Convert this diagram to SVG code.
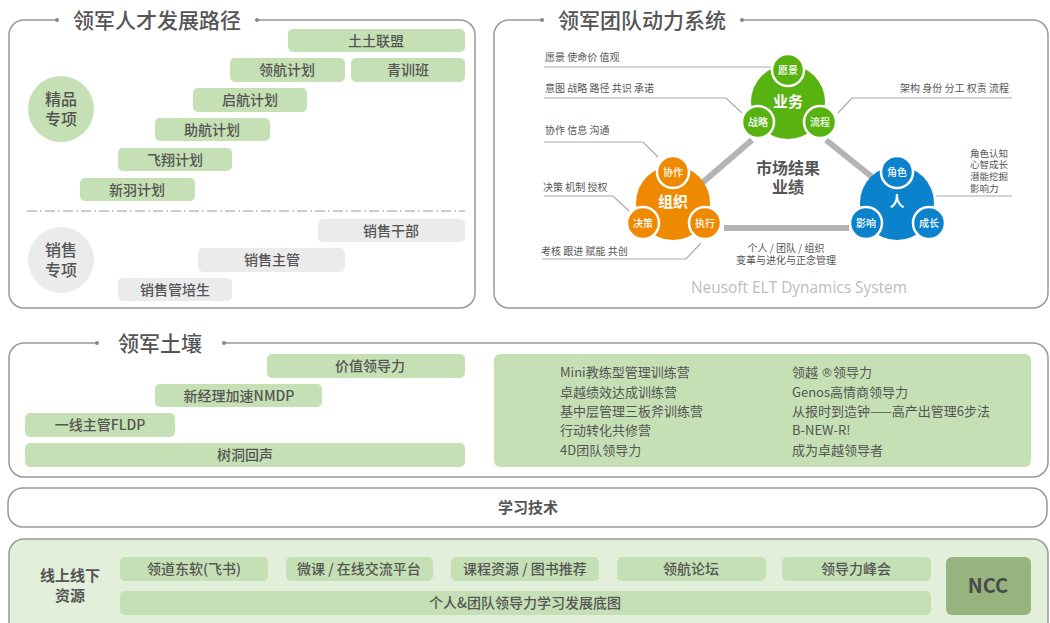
<svg xmlns="http://www.w3.org/2000/svg" width="1050" height="623" viewBox="0 0 1050 623">
<style>
text{font-family:"Noto Sans CJK SC","Noto Sans",sans-serif;fill:#555}
.title{font-size:21px;font-weight:500}
.lbl{font-size:14px;font-weight:500;text-anchor:middle}
.panel{fill:none;stroke:#999;stroke-width:1.5}
.g{fill:#c5e0b4}
.gr{fill:#ebebeb}
.ann{font-size:10px}
.annl{fill:none;stroke:#aaa;stroke-width:1.2}
.sm{font-size:10px;fill:#fff;text-anchor:middle;font-weight:500}
.big{font-size:15px;fill:#fff;text-anchor:middle;font-weight:bold}
.wl{stroke:#fff;stroke-width:2.5}
.lst{font-size:13px}
.dot{fill:#888}
</style>

<!-- Panel 1 -->
<g id="panel-talent">
<path class="panel" d="M57 20H24A15 15 0 0 0 9 35V293A15 15 0 0 0 24 308H460A15 15 0 0 0 475 293V35A15 15 0 0 0 460 20H257"/>
<circle class="dot" cx="57" cy="20" r="2"/><circle class="dot" cx="257" cy="20" r="2"/>
<text class="title" x="157" y="28" text-anchor="middle">领军人才发展路径</text>
</g>
<g id="n-jingpin"><circle class="g" cx="61" cy="109" r="33"/><text class="lbl" style="font-size:16px"><tspan x="61" y="105">精品</tspan><tspan x="61" y="125">专项</tspan></text></g>
<g id="n-tutu"><rect class="g" x="288" y="29" width="177" height="23" rx="5"/><text class="lbl" x="376" y="45.5">土土联盟</text></g>
<g id="n-linghang"><rect class="g" x="230" y="58" width="115" height="24" rx="5"/><text class="lbl" x="287" y="75">领航计划</text></g>
<g id="n-qingxun"><rect class="g" x="351" y="58" width="114" height="24" rx="5"/><text class="lbl" x="408" y="75">青训班</text></g>
<g id="n-qihang"><rect class="g" x="193" y="88" width="114" height="24" rx="5"/><text class="lbl" x="250" y="105">启航计划</text></g>
<g id="n-zhuhang"><rect class="g" x="155" y="118" width="115" height="23" rx="5"/><text class="lbl" x="212" y="134.5">助航计划</text></g>
<g id="n-feixiang"><rect class="g" x="118" y="148" width="114" height="23" rx="5"/><text class="lbl" x="175" y="164.5">飞翔计划</text></g>
<g id="n-xinyu"><rect class="g" x="80" y="178" width="115" height="23" rx="5"/><text class="lbl" x="137" y="194.5">新羽计划</text></g>
<line x1="27" y1="211" x2="465" y2="211" stroke="#999" stroke-width="1.2" stroke-dasharray="10 3 2 3"/>
<g id="n-xiaoshou"><circle class="gr" cx="61" cy="260" r="33"/><text class="lbl" style="font-size:16px"><tspan x="61" y="256">销售</tspan><tspan x="61" y="276">专项</tspan></text></g>
<g id="n-xsgb"><rect class="gr" x="318" y="219" width="147" height="23" rx="5"/><text class="lbl" x="391" y="235.5">销售干部</text></g>
<g id="n-xszg"><rect class="gr" x="198" y="248" width="147" height="24" rx="5"/><text class="lbl" x="272" y="265">销售主管</text></g>
<g id="n-xsgps"><rect class="gr" x="118" y="278" width="114" height="23" rx="5"/><text class="lbl" x="175" y="294.5">销售管培生</text></g>

<!-- Panel 2 -->
<g id="panel-team">
<path class="panel" d="M542 20H509A15 15 0 0 0 494 35V293A15 15 0 0 0 509 308H1033A15 15 0 0 0 1048 293V35A15 15 0 0 0 1033 20H742"/>
<circle class="dot" cx="542" cy="20" r="2"/><circle class="dot" cx="742" cy="20" r="2"/>
<text class="title" x="642" y="28" text-anchor="middle">领军团队动力系统</text>
</g>
<g id="connectors">
<line x1="752" y1="140" x2="702" y2="183" stroke="#b4b4b4" stroke-width="6"/>
<line x1="826" y1="140" x2="872" y2="177" stroke="#b4b4b4" stroke-width="6"/>
<line x1="724" y1="228" x2="849" y2="228" stroke="#b4b4b4" stroke-width="6"/>
<polyline class="annl" points="544,67 772,67"/>
<polyline class="annl" points="544,98 726,98 742,113"/>
<polyline class="annl" points="544,142 643,142 658,157"/>
<polyline class="annl" points="544,196 613,196 629,211"/>
<polyline class="annl" points="542,259 686,259 701,243"/>
<polyline class="annl" points="1012,98 852,98 838,113"/>
<polyline class="annl" points="936,196 1012,196"/>
</g>
<g id="n-yewu">
<circle cx="788" cy="102" r="37" fill="#58b20f"/>
<circle class="wl" cx="788" cy="70" r="16" fill="#58b20f"/>
<circle class="wl" cx="758" cy="122" r="16" fill="#58b20f"/>
<circle class="wl" cx="820" cy="122" r="16" fill="#58b20f"/>
<text class="big" x="788" y="107">业务</text>
<text class="sm" x="788" y="74">愿景</text>
<text class="sm" x="758" y="126">战略</text>
<text class="sm" x="820" y="126">流程</text>
</g>
<g id="n-zuzhi">
<circle cx="673" cy="203" r="37" fill="#ef8a00"/>
<circle class="wl" cx="673" cy="172" r="16" fill="#ef8a00"/>
<circle class="wl" cx="643" cy="223" r="16" fill="#ef8a00"/>
<circle class="wl" cx="705" cy="223" r="16" fill="#ef8a00"/>
<text class="big" x="673" y="207">组织</text>
<text class="sm" x="673" y="176">协作</text>
<text class="sm" x="643" y="227">决策</text>
<text class="sm" x="705" y="227">执行</text>
</g>
<g id="n-ren">
<circle cx="897" cy="203" r="37" fill="#0b82cb"/>
<circle class="wl" cx="897" cy="172" r="16" fill="#0b82cb"/>
<circle class="wl" cx="866" cy="223" r="16" fill="#0b82cb"/>
<circle class="wl" cx="929" cy="223" r="16" fill="#0b82cb"/>
<text class="big" x="897" y="207">人</text>
<text class="sm" x="897" y="176">角色</text>
<text class="sm" x="866" y="227">影响</text>
<text class="sm" x="929" y="227">成长</text>
</g>
<g id="n-center">
<text text-anchor="middle" style="font-size:16px;font-weight:bold"><tspan x="788" y="174">市场结果</tspan><tspan x="788" y="193">业绩</tspan></text>
</g>
<g id="annotations">
<text class="ann" x="545" y="61">愿景 使命价 值观</text>
<text class="ann" x="545" y="92">意图 战略 路径 共识 承诺</text>
<text class="ann" x="545" y="134">协作 信息 沟通</text>
<text class="ann" x="543" y="191">决策 机制 授权</text>
<text class="ann" x="541" y="255">考核 跟进 赋能 共创</text>
<text class="ann" x="1009" y="92" text-anchor="end">架构 身份 分工 权责 流程</text>
<text class="ann" style="font-size:9.5px"><tspan x="970" y="156.5">角色认知</tspan><tspan x="970" y="168.2">心智成长</tspan><tspan x="970" y="179.9">潜能挖掘</tspan><tspan x="970" y="191.6">影响力</tspan></text>
<text class="ann" text-anchor="middle"><tspan x="786" y="252">个人 / 团队 / 组织</tspan><tspan x="786" y="264">变革与进化与正念管理</tspan></text>
<text x="799" y="293" text-anchor="middle" style="font-size:16px;fill:#bdbdbd;font-family:'Open Sans','Noto Sans',sans-serif" textLength="216" lengthAdjust="spacingAndGlyphs">Neusoft ELT Dynamics System</text>
</g>

<!-- Panel 3 -->
<g id="panel-soil">
<path class="panel" d="M97 343H24A15 15 0 0 0 9 358V462A15 15 0 0 0 24 477H1033A15 15 0 0 0 1048 462V358A15 15 0 0 0 1033 343H224"/>
<circle class="dot" cx="97" cy="343" r="2"/><circle class="dot" cx="224" cy="343" r="2"/>
<text class="title" x="160" y="351" text-anchor="middle">领军土壤</text>
</g>
<g id="n-jiazhi"><rect class="g" x="267" y="354" width="198" height="24" rx="5"/><text class="lbl" x="370" y="371">价值领导力</text></g>
<g id="n-nmdp"><rect class="g" x="155" y="384" width="167" height="23" rx="5"/><text class="lbl" x="239" y="400.5">新经理加速NMDP</text></g>
<g id="n-fldp"><rect class="g" x="25" y="413" width="150" height="24" rx="5"/><text class="lbl" x="100" y="430">一线主管FLDP</text></g>
<g id="n-shudong"><rect class="g" x="25" y="443" width="440" height="24" rx="5"/><text class="lbl" x="245" y="460">树洞回声</text></g>
<g id="n-courses">
<rect class="g" x="494" y="354" width="537" height="113" rx="6"/>
<text class="lst" x="560" y="377">Mini教练型管理训练营</text>
<text class="lst" x="560" y="397">卓越绩效达成训练营</text>
<text class="lst" x="560" y="416">基中层管理三板斧训练营</text>
<text class="lst" x="560" y="435">行动转化共修营</text>
<text class="lst" x="560" y="455">4D团队领导力</text>
<text class="lst" x="792" y="377">领越 <tspan style="font-family:'DejaVu Sans',sans-serif;font-size:12px">®</tspan>领导力</text>
<text class="lst" x="792" y="397">Genos高情商领导力</text>
<text class="lst" x="792" y="416">从报时到造钟——高产出管理6步法</text>
<text class="lst" x="792" y="435">B-NEW-R!</text>
<text class="lst" x="792" y="455">成为卓越领导者</text>
</g>

<!-- Learning tech -->
<g id="n-tech">
<rect x="8" y="488" width="1039" height="39" rx="15" fill="#fff" stroke="#999" stroke-width="1.5"/>
<text x="528" y="513" text-anchor="middle" style="font-size:15px;font-weight:bold">学习技术</text>
</g>

<!-- Resources -->
<g id="panel-resources">
<rect x="9" y="539" width="1039" height="100" rx="15" fill="#e2efda" stroke="#999" stroke-width="1.5"/>
<text text-anchor="middle" style="font-size:15px;font-weight:bold"><tspan x="70" y="581">线上线下</tspan><tspan x="70" y="601">资源</tspan></text>
</g>
<g id="n-feishu"><rect class="g" x="120" y="557" width="148" height="24" rx="5"/><text class="lbl" x="194" y="574">领道东软(飞书)</text></g>
<g id="n-weike"><rect class="g" x="286" y="557" width="147" height="24" rx="5"/><text class="lbl" x="359" y="574">微课 / 在线交流平台</text></g>
<g id="n-kecheng"><rect class="g" x="451" y="557" width="148" height="24" rx="5"/><text class="lbl" x="525" y="574">课程资源 / 图书推荐</text></g>
<g id="n-luntan"><rect class="g" x="617" y="557" width="149" height="24" rx="5"/><text class="lbl" x="691" y="574">领航论坛</text></g>
<g id="n-fenghui"><rect class="g" x="782" y="557" width="149" height="24" rx="5"/><text class="lbl" x="856" y="574">领导力峰会</text></g>
<g id="n-ditu"><rect class="g" x="120" y="591" width="811" height="24" rx="5"/><text class="lbl" x="525" y="608">个人&amp;团队领导力学习发展底图</text></g>
<g id="n-ncc"><rect x="946" y="557" width="85" height="58" rx="6" fill="#97b47e"/><text x="988" y="593" text-anchor="middle" style="font-size:20px;font-weight:bold;fill:#4a4a4a">NCC</text></g>
</svg>
